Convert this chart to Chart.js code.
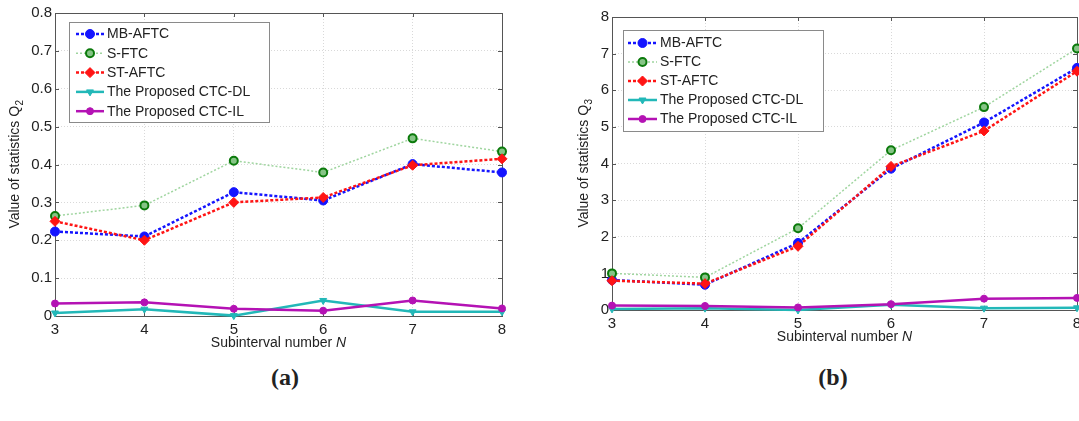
<!DOCTYPE html>
<html>
<head>
<meta charset="utf-8">
<script src="https://cdn.jsdelivr.net/npm/chart.js@4.4.0/dist/chart.umd.min.js"></script>
<style>
  body { margin: 0; background: #fff; }
  #wrap { position: relative; width: 1079px; height: 421px; overflow: hidden; background: #fff; }
  #chartA { position: absolute; left: 0; top: 0; }
  #chartB { position: absolute; left: 540px; top: 0; }
  .tag { position: absolute; top: 364px; font: bold 24px "Liberation Serif", "Times New Roman", serif; color: #222; transform: translateX(-50%); }
</style>
</head>
<body>
<div id="wrap">
  <canvas id="chartA" width="540" height="360"></canvas>
  <canvas id="chartB" width="543" height="360"></canvas>
  <div class="tag" style="left:285px">(a)</div>
  <div class="tag" style="left:833px">(b)</div>
</div>
<script>
// x categories: subinterval number N
const subintervals = [3, 4, 5, 6, 7, 8];
const seriesNames = ["MB-AFTC", "S-FTC", "ST-AFTC", "The Proposed CTC-DL", "The Proposed CTC-IL"];

// (a) statistics Q2
const q2MB   = [0.223, 0.210, 0.327, 0.305, 0.401, 0.379];
const q2SFTC = [0.264, 0.292, 0.410, 0.379, 0.469, 0.434];
const q2ST   = [0.250, 0.200, 0.300, 0.313, 0.398, 0.415];
const q2DL   = [0.008, 0.018, 0.001, 0.041, 0.011, 0.011];
const q2IL   = [0.033, 0.036, 0.019, 0.014, 0.041, 0.020];
const q2Ticks = [0, 0.1, 0.2, 0.3, 0.4, 0.5, 0.6, 0.7, 0.8];

// (b) statistics Q3
const q3MB   = [0.82, 0.69, 1.83, 3.86, 5.12, 6.61];
const q3SFTC = [1.00, 0.89, 2.23, 4.36, 5.54, 7.14];
const q3ST   = [0.80, 0.72, 1.74, 3.92, 4.89, 6.52];
const q3DL   = [0.03, 0.05, 0.00, 0.14, 0.05, 0.06];
const q3IL   = [0.12, 0.11, 0.07, 0.16, 0.31, 0.33];
const q3Ticks = [0, 1, 2, 3, 4, 5, 6, 7, 8];

const FONT = "Liberation Sans, Arial, sans-serif";
Chart.defaults.font.family = FONT;

// line look for every series (MATLAB-ish)
const looks = [
    { color: "#1414ff", width: 2.5, dash: [3, 2], point: "circle", r: 4.5, fill: "#1414ff", edge: "#1414ff", ew: 1 },
    { color: "#9fd59f", width: 1.5, dash: [2, 2], point: "circle", r: 4, fill: "#86c486", edge: "#0b7a0b", ew: 2 },
    { color: "#ff1414", width: 2.5, dash: [3, 2], point: "rectRot", r: 5, fill: "#ff1414", edge: "#ff1414", ew: 1 },
    { color: "#22b8b8", width: 2.5, dash: [], point: "triangle", r: 4, fill: "#22b8b8", edge: "#22b8b8", ew: 1, rot: 180 },
    { color: "#b412b4", width: 2.5, dash: [], point: "circle", r: 3.5, fill: "#b412b4", edge: "#b412b4", ew: 1 }
];

function makeDatasets(seriesList) {
    return seriesList.map((vals, i) => {
        const l = looks[i];
        return {
            label: seriesNames[i],
            data: vals,
            borderColor: l.color,
            borderWidth: l.width,
            borderDash: l.dash,
            pointStyle: l.point,
            pointRadius: l.r,
            pointRotation: l.rot || 0,
            pointBackgroundColor: l.fill,
            pointBorderColor: l.edge,
            pointBorderWidth: l.ew,
            tension: 0,
            clip: false,
            order: 5 - i   // later series on top, like MATLAB
        };
    });
}

/** frame, inward ticks, axis titles and boxed legend **/
const matlabLook = {
    id: "matlabLook",
    beforeDatasetsDraw(chart, args, o) {
        const ctx = chart.ctx, a = chart.chartArea;
        const xs = chart.scales.x, ys = chart.scales.y;
        ctx.save();
        ctx.strokeStyle = "#555";
        ctx.lineWidth = 1;
        ctx.strokeRect(Math.round(a.left) + 0.5, Math.round(a.top) + 0.5,
            Math.round(a.right - a.left), Math.round(a.bottom - a.top));
        ctx.beginPath();
        xs.ticks.forEach((t, i) => {
            const px = Math.round(xs.getPixelForTick(i)) + 0.5;
            ctx.moveTo(px, a.bottom); ctx.lineTo(px, a.bottom - 4);
            ctx.moveTo(px, a.top); ctx.lineTo(px, a.top + 4);
        });
        ys.ticks.forEach(t => {
            const py = Math.round(ys.getPixelForValue(t.value)) + 0.5;
            ctx.moveTo(a.left, py); ctx.lineTo(a.left + 4, py);
            ctx.moveTo(a.right, py); ctx.lineTo(a.right - 4, py);
        });
        ctx.stroke();
        ctx.restore();
    },
    afterDraw(chart, args, o) {
        const ctx = chart.ctx, a = chart.chartArea;
        ctx.save();
        ctx.fillStyle = "#222";
        ctx.textBaseline = "middle";

        // x title with italic N
        const part1 = "Subinterval number ";
        ctx.font = "14px " + FONT;
        const w1 = ctx.measureText(part1).width;
        ctx.font = "italic 14px " + FONT;
        const w2 = ctx.measureText("N").width;
        const x0 = (a.left + a.right) / 2 - (w1 + w2) / 2;
        ctx.textAlign = "left";
        ctx.font = "14px " + FONT;
        ctx.fillText(part1, x0, o.xTitleY);
        ctx.font = "italic 14px " + FONT;
        ctx.fillText("N", x0 + w1, o.xTitleY);

        // y title with subscript
        ctx.save();
        ctx.translate(o.yTitleX, (a.top + a.bottom) / 2);
        ctx.rotate(-Math.PI / 2);
        const main = "Value of statistics Q";
        ctx.font = "14px " + FONT;
        const wm = ctx.measureText(main).width;
        ctx.font = "10px " + FONT;
        const ws = ctx.measureText(o.ySub).width;
        const sx = -(wm + ws) / 2;
        ctx.font = "14px " + FONT;
        ctx.fillText(main, sx, 0);
        ctx.font = "10px " + FONT;
        ctx.fillText(o.ySub, sx + wm + 0.5, 5);
        ctx.restore();

        // legend box
        const L = o.legend;
        ctx.fillStyle = "#fff";
        ctx.fillRect(L.x, L.y, L.w, L.h);
        ctx.strokeStyle = "#8a8a8a";
        ctx.lineWidth = 1;
        ctx.strokeRect(L.x + 0.5, L.y + 0.5, L.w, L.h);
        chart.data.datasets.forEach((ds, i) => {
            const l = looks[i];
            const cy = L.y + L.first + i * L.step;
            const sx0 = L.x + L.pad, sx1 = sx0 + L.len;
            ctx.strokeStyle = l.color;
            ctx.lineWidth = l.width;
            ctx.setLineDash(l.dash);
            ctx.beginPath();
            ctx.moveTo(sx0, cy); ctx.lineTo(sx1, cy);
            ctx.stroke();
            ctx.setLineDash([]);
            ctx.fillStyle = l.fill;
            ctx.strokeStyle = l.edge;
            ctx.lineWidth = l.ew;
            Chart.helpers.drawPoint(ctx, { pointStyle: l.point, radius: l.r, rotation: l.rot || 0, borderWidth: l.ew },
                (sx0 + sx1) / 2, cy);
            ctx.fillStyle = "#222";
            ctx.font = "14px " + FONT;
            ctx.textAlign = "left";
            ctx.fillText(ds.label, sx1 + 3, cy + 0.5);
        });
        ctx.restore();
    }
};

function makeChart(canvasId, seriesList, yTicks, lay) {
    return new Chart(document.getElementById(canvasId).getContext("2d"), {
        type: "line",
        data: { labels: subintervals.map(String), datasets: makeDatasets(seriesList) },
        options: {
            responsive: false,
            animation: false,
            layout: { padding: { left: 0, top: lay.top, right: lay.right, bottom: 0 } },
            scales: {
                x: {
                    offset: false,
                    grid: { color: "rgba(0,0,0,0.15)", drawTicks: false },
                    border: { display: false, dash: [1, 2] },
                    ticks: { color: "#222", font: { size: 15 }, padding: 5, maxRotation: 0, autoSkip: false },
                    afterFit: s => { s.height = lay.xh; s.paddingLeft = 0; s.paddingRight = 0; }
                },
                y: {
                    min: yTicks[0],
                    max: yTicks[yTicks.length - 1],
                    grid: { color: "rgba(0,0,0,0.15)", drawTicks: false },
                    border: { display: false, dash: [1, 2] },
                    ticks: { color: "#222", font: { size: 15 }, padding: lay.tp, callback: v => String(v) },
                    afterBuildTicks: s => { s.ticks = yTicks.map(v => ({ value: v })); },
                    afterFit: s => { s.width = lay.yw; }
                }
            },
            plugins: {
                legend: { display: false },
                tooltip: { enabled: false },
                matlabLook: {
                    xTitleY: lay.xTitleY,
                    yTitleX: lay.yTitleX,
                    ySub: lay.ySub,
                    legend: lay.legend
                }
            }
        },
        plugins: [matlabLook]
    });
}

makeChart("chartA", [q2MB, q2SFTC, q2ST, q2DL, q2IL], q2Ticks, {
    top: 13, right: 38, xh: 44, yw: 55, tp: 3,
    xTitleY: 343, yTitleX: 15, ySub: "2",
    legend: { x: 69, y: 22, w: 200, h: 100, first: 12, step: 19.3, pad: 7, len: 28 }
});

makeChart("chartB", [q3MB, q3SFTC, q3ST, q3DL, q3IL], q3Ticks, {
    top: 17, right: 0, xh: 50, yw: 72, tp: 3,
    xTitleY: 337, yTitleX: 44, ySub: "3",
    legend: { x: 83, y: 30, w: 200, h: 101, first: 13, step: 19, pad: 5, len: 29 }
});
</script>
</body>
</html>
